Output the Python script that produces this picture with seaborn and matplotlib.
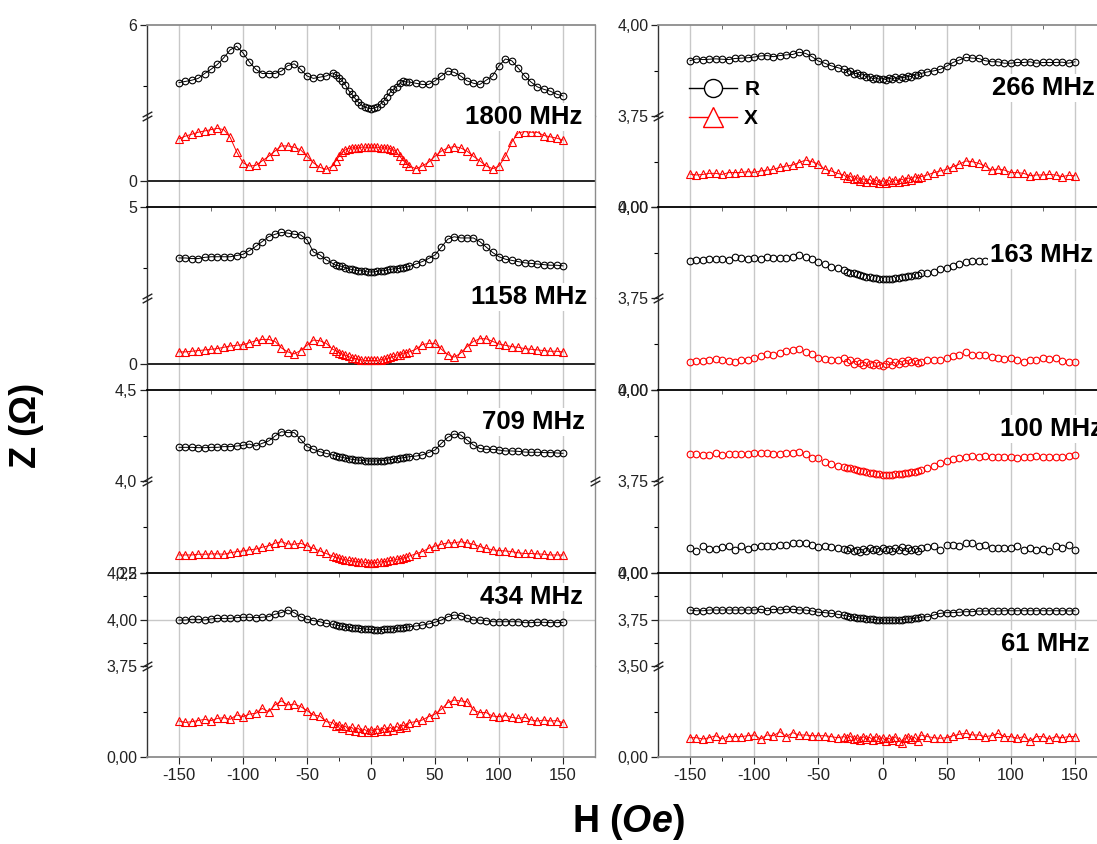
import matplotlib
matplotlib.use("Agg")
import matplotlib.pyplot as plt
import matplotlib.transforms as mtransforms
from matplotlib.lines import Line2D
import seaborn as sns

# === Field sweep: 5 Oe steps outside, 2.5 Oe steps in the central region ===
H = list(range(-150, -30, 5)) + [k * 2.5 for k in range(-12, 13)] + list(range(35, 155, 5))

# === 1800 MHz ===
R_1800 = [5.05, 5.07, 5.09, 5.12, 5.20, 5.27, 5.35, 5.46, 5.59, 5.65, 5.54, 5.39,
          5.27, 5.20, 5.20, 5.20, 5.24, 5.33, 5.36, 5.27, 5.16, 5.12, 5.14, 5.16,
          5.21, 5.18, 5.13, 5.08, 5.01, 4.92, 4.86, 4.79, 4.73, 4.68, 4.65, 4.63, 4.62,
          4.63, 4.65, 4.70, 4.75, 4.82, 4.89, 4.94, 4.98, 5.04, 5.08, 5.06, 5.06,
          5.04, 5.02, 5.02, 5.08, 5.16, 5.24, 5.22, 5.16, 5.08, 5.04, 5.02, 5.09,
          5.16, 5.33, 5.44, 5.41, 5.29, 5.16, 5.06, 4.98, 4.94, 4.91, 4.86, 4.83]
X_1800 = [0.65, 0.69, 0.72, 0.75, 0.77, 0.79, 0.81, 0.79, 0.67, 0.45, 0.28, 0.23,
          0.24, 0.31, 0.38, 0.46, 0.54, 0.54, 0.52, 0.48, 0.38, 0.28, 0.21, 0.18,
          0.23, 0.31, 0.38, 0.44, 0.48, 0.50, 0.51, 0.51, 0.51, 0.52, 0.52, 0.52, 0.52,
          0.52, 0.52, 0.51, 0.51, 0.51, 0.50, 0.48, 0.44, 0.38, 0.32, 0.27, 0.23,
          0.19, 0.23, 0.29, 0.38, 0.46, 0.51, 0.53, 0.51, 0.46, 0.38, 0.31, 0.23,
          0.19, 0.23, 0.38, 0.60, 0.74, 0.76, 0.75, 0.75, 0.70, 0.68, 0.66, 0.63]

# === 1158 MHz ===
R_1158 = [4.16, 4.16, 4.15, 4.15, 4.17, 4.18, 4.18, 4.18, 4.18, 4.20, 4.22, 4.28,
          4.35, 4.43, 4.51, 4.55, 4.58, 4.57, 4.55, 4.54, 4.46, 4.26, 4.21, 4.13,
          4.07, 4.04, 4.03, 4.02, 4.00, 3.98, 3.97, 3.96, 3.95, 3.95, 3.94, 3.93, 3.93,
          3.93, 3.94, 3.95, 3.95, 3.96, 3.97, 3.98, 3.98, 3.99, 4.00, 4.01, 4.02,
          4.06, 4.10, 4.15, 4.21, 4.34, 4.47, 4.51, 4.49, 4.49, 4.49, 4.43, 4.34,
          4.25, 4.18, 4.14, 4.12, 4.10, 4.08, 4.07, 4.06, 4.05, 4.04, 4.04, 4.03]
X_1158 = [0.18, 0.18, 0.19, 0.20, 0.21, 0.22, 0.23, 0.25, 0.27, 0.28, 0.29, 0.32,
          0.35, 0.37, 0.37, 0.34, 0.24, 0.18, 0.15, 0.20, 0.28, 0.36, 0.35, 0.31,
          0.22, 0.20, 0.17, 0.15, 0.13, 0.11, 0.09, 0.08, 0.07, 0.06, 0.05, 0.05, 0.05,
          0.05, 0.05, 0.06, 0.07, 0.08, 0.10, 0.11, 0.13, 0.14, 0.16, 0.17, 0.18,
          0.22, 0.29, 0.31, 0.31, 0.22, 0.14, 0.10, 0.16, 0.26, 0.34, 0.38, 0.38,
          0.34, 0.30, 0.28, 0.26, 0.25, 0.23, 0.22, 0.21, 0.20, 0.19, 0.19, 0.18]

# === 709 MHz ===
R_709 = [4.185, 4.185, 4.185, 4.183, 4.183, 4.185, 4.185, 4.189, 4.189, 4.192, 4.196, 4.203,
         4.192, 4.207, 4.220, 4.247, 4.271, 4.266, 4.266, 4.229, 4.189, 4.174, 4.161, 4.152,
         4.143, 4.137, 4.134, 4.130, 4.126, 4.123, 4.119, 4.117, 4.115, 4.114, 4.112, 4.110, 4.110,
         4.110, 4.110, 4.112, 4.112, 4.115, 4.117, 4.119, 4.123, 4.125, 4.128, 4.130, 4.134,
         4.137, 4.143, 4.156, 4.170, 4.207, 4.240, 4.258, 4.253, 4.225, 4.198, 4.179, 4.174,
         4.174, 4.170, 4.165, 4.165, 4.163, 4.159, 4.158, 4.158, 4.156, 4.156, 4.154, 4.152]
X_709 = [0.249, 0.249, 0.249, 0.251, 0.251, 0.252, 0.252, 0.251, 0.255, 0.258, 0.260, 0.263,
         0.265, 0.270, 0.274, 0.281, 0.285, 0.279, 0.278, 0.281, 0.274, 0.267, 0.260, 0.253,
         0.246, 0.243, 0.241, 0.238, 0.236, 0.234, 0.233, 0.232, 0.231, 0.230, 0.229, 0.228, 0.228,
         0.228, 0.229, 0.230, 0.231, 0.232, 0.234, 0.235, 0.237, 0.239, 0.241, 0.243, 0.246,
         0.252, 0.258, 0.267, 0.273, 0.278, 0.282, 0.282, 0.285, 0.282, 0.278, 0.272, 0.267,
         0.263, 0.261, 0.260, 0.258, 0.255, 0.253, 0.253, 0.252, 0.251, 0.249, 0.249, 0.249]

# === 434 MHz ===
R_434 = [3.997, 3.997, 4.001, 4.001, 3.997, 4.003, 4.006, 4.006, 4.006, 4.010, 4.012, 4.012,
         4.010, 4.012, 4.015, 4.028, 4.037, 4.051, 4.037, 4.015, 4.001, 3.994, 3.988, 3.979,
         3.974, 3.970, 3.967, 3.963, 3.961, 3.958, 3.956, 3.954, 3.953, 3.951, 3.949, 3.947, 3.947,
         3.945, 3.945, 3.945, 3.947, 3.947, 3.949, 3.951, 3.953, 3.954, 3.956, 3.958, 3.961,
         3.965, 3.970, 3.976, 3.985, 3.997, 4.015, 4.024, 4.021, 4.006, 3.997, 3.997, 3.994,
         3.988, 3.988, 3.988, 3.988, 3.988, 3.983, 3.983, 3.985, 3.985, 3.983, 3.983, 3.985]
X_434 = [0.198, 0.190, 0.194, 0.200, 0.207, 0.200, 0.212, 0.216, 0.207, 0.231, 0.222, 0.236,
         0.240, 0.267, 0.249, 0.286, 0.308, 0.286, 0.291, 0.277, 0.255, 0.231, 0.225, 0.194,
         0.189, 0.170, 0.178, 0.160, 0.170, 0.150, 0.163, 0.145, 0.158, 0.140, 0.152, 0.138, 0.150,
         0.140, 0.155, 0.142, 0.158, 0.145, 0.163, 0.150, 0.168, 0.158, 0.175, 0.165, 0.189,
         0.194, 0.203, 0.222, 0.236, 0.262, 0.299, 0.313, 0.308, 0.304, 0.258, 0.244, 0.244,
         0.225, 0.222, 0.227, 0.218, 0.212, 0.218, 0.203, 0.198, 0.203, 0.198, 0.200, 0.189]

# === 266 MHz ===
R_266 = [3.902, 3.907, 3.905, 3.906, 3.907, 3.906, 3.905, 3.908, 3.909, 3.910, 3.912, 3.915,
         3.916, 3.913, 3.916, 3.918, 3.919, 3.925, 3.922, 3.913, 3.901, 3.895, 3.888, 3.883,
         3.878, 3.872, 3.875, 3.866, 3.867, 3.862, 3.864, 3.857, 3.858, 3.852, 3.855, 3.851, 3.853,
         3.850, 3.855, 3.851, 3.856, 3.852, 3.857, 3.855, 3.860, 3.858, 3.864, 3.862, 3.867,
         3.871, 3.874, 3.878, 3.887, 3.897, 3.904, 3.911, 3.909, 3.908, 3.902, 3.899, 3.899,
         3.895, 3.895, 3.897, 3.897, 3.899, 3.895, 3.897, 3.897, 3.897, 3.898, 3.895, 3.899]
X_266 = [0.181, 0.176, 0.179, 0.185, 0.185, 0.179, 0.189, 0.189, 0.190, 0.194, 0.190, 0.198,
         0.203, 0.207, 0.218, 0.225, 0.231, 0.244, 0.258, 0.249, 0.236, 0.207, 0.198, 0.185,
         0.176, 0.160, 0.170, 0.152, 0.162, 0.145, 0.155, 0.140, 0.152, 0.136, 0.148, 0.134, 0.145,
         0.132, 0.146, 0.136, 0.150, 0.140, 0.154, 0.143, 0.160, 0.150, 0.167, 0.160, 0.167,
         0.176, 0.189, 0.198, 0.207, 0.222, 0.236, 0.253, 0.249, 0.240, 0.225, 0.203, 0.209,
         0.203, 0.189, 0.189, 0.185, 0.172, 0.176, 0.176, 0.179, 0.176, 0.167, 0.174, 0.172]

# === 163 MHz ===
R_163 = [3.853, 3.854, 3.854, 3.856, 3.856, 3.856, 3.854, 3.862, 3.859, 3.858, 3.860, 3.858,
         3.864, 3.861, 3.859, 3.861, 3.864, 3.868, 3.864, 3.857, 3.850, 3.843, 3.836, 3.832,
         3.827, 3.822, 3.820, 3.818, 3.815, 3.813, 3.810, 3.809, 3.807, 3.806, 3.805, 3.803, 3.802,
         3.801, 3.802, 3.803, 3.804, 3.806, 3.807, 3.809, 3.810, 3.810, 3.812, 3.814, 3.818,
         3.820, 3.822, 3.829, 3.833, 3.838, 3.843, 3.850, 3.853, 3.853, 3.853, 3.853, 3.853,
         3.853, 3.852, 3.853, 3.852, 3.853, 3.853, 3.852, 3.853, 3.853, 3.852, 3.853, 3.853]
X_163 = [0.152, 0.156, 0.159, 0.161, 0.170, 0.165, 0.159, 0.152, 0.165, 0.165, 0.174, 0.183,
         0.196, 0.192, 0.201, 0.211, 0.220, 0.223, 0.205, 0.198, 0.174, 0.170, 0.165, 0.161,
         0.174, 0.150, 0.161, 0.143, 0.156, 0.147, 0.137, 0.150, 0.143, 0.134, 0.147, 0.137, 0.128,
         0.143, 0.156, 0.137, 0.150, 0.143, 0.156, 0.147, 0.161, 0.150, 0.156, 0.147, 0.152,
         0.161, 0.165, 0.165, 0.174, 0.183, 0.192, 0.205, 0.192, 0.189, 0.192, 0.179, 0.174,
         0.168, 0.174, 0.161, 0.150, 0.161, 0.161, 0.174, 0.168, 0.174, 0.156, 0.152, 0.152]

# === 100 MHz (red trace on the upper scale, black trace on the lower scale) ===
TOP_100 = [3.824, 3.824, 3.821, 3.821, 3.826, 3.821, 3.823, 3.823, 3.823, 3.823, 3.826, 3.826,
           3.826, 3.824, 3.824, 3.826, 3.828, 3.829, 3.824, 3.812, 3.812, 3.803, 3.797, 3.792,
           3.789, 3.787, 3.785, 3.782, 3.780, 3.778, 3.777, 3.775, 3.773, 3.771, 3.769, 3.768, 3.767,
           3.766, 3.766, 3.767, 3.768, 3.769, 3.770, 3.771, 3.773, 3.775, 3.776, 3.778, 3.780,
           3.785, 3.791, 3.799, 3.805, 3.810, 3.812, 3.815, 3.819, 3.817, 3.819, 3.817, 3.817,
           3.815, 3.815, 3.814, 3.817, 3.817, 3.819, 3.817, 3.817, 3.817, 3.817, 3.819, 3.821]
BOT_100 = [0.136, 0.121, 0.145, 0.130, 0.132, 0.139, 0.148, 0.123, 0.145, 0.130, 0.141, 0.145,
           0.145, 0.145, 0.154, 0.150, 0.163, 0.163, 0.163, 0.150, 0.141, 0.145, 0.139, 0.136,
           0.130, 0.123, 0.136, 0.117, 0.126, 0.112, 0.130, 0.121, 0.136, 0.123, 0.130, 0.117, 0.136,
           0.123, 0.130, 0.119, 0.136, 0.123, 0.139, 0.117, 0.136, 0.123, 0.130, 0.117, 0.136,
           0.141, 0.145, 0.126, 0.150, 0.150, 0.145, 0.163, 0.163, 0.145, 0.150, 0.136, 0.136,
           0.136, 0.136, 0.145, 0.123, 0.136, 0.126, 0.130, 0.117, 0.148, 0.136, 0.150, 0.123]

# === 61 MHz ===
R_61 = [3.801, 3.797, 3.797, 3.801, 3.801, 3.801, 3.801, 3.801, 3.801, 3.801, 3.801, 3.805,
        3.797, 3.805, 3.801, 3.805, 3.805, 3.801, 3.801, 3.796, 3.789, 3.787, 3.783, 3.778,
        3.772, 3.769, 3.765, 3.763, 3.760, 3.758, 3.756, 3.754, 3.753, 3.751, 3.749, 3.747, 3.747,
        3.747, 3.746, 3.747, 3.747, 3.747, 3.749, 3.751, 3.753, 3.754, 3.756, 3.760, 3.763,
        3.765, 3.774, 3.783, 3.787, 3.787, 3.789, 3.792, 3.792, 3.796, 3.796, 3.796, 3.796,
        3.797, 3.797, 3.797, 3.797, 3.797, 3.797, 3.797, 3.797, 3.797, 3.797, 3.796, 3.797]
X_61 = [0.106, 0.106, 0.099, 0.106, 0.117, 0.099, 0.112, 0.112, 0.112, 0.117, 0.121, 0.099,
        0.121, 0.117, 0.139, 0.112, 0.134, 0.121, 0.121, 0.117, 0.117, 0.117, 0.112, 0.106,
        0.112, 0.103, 0.115, 0.097, 0.106, 0.093, 0.112, 0.099, 0.108, 0.093, 0.112, 0.097, 0.106,
        0.090, 0.103, 0.093, 0.112, 0.090, 0.079, 0.103, 0.112, 0.097, 0.108, 0.090, 0.121,
        0.112, 0.106, 0.103, 0.106, 0.117, 0.125, 0.130, 0.121, 0.121, 0.112, 0.117, 0.130,
        0.112, 0.112, 0.103, 0.112, 0.088, 0.112, 0.112, 0.099, 0.112, 0.106, 0.112, 0.112]

FREQ_LABELS = ["1800 MHz", "1158 MHz", "709 MHz", "434 MHz",
               "266 MHz", "163 MHz", "100 MHz", "61 MHz"]

plt.rcParams["font.family"] = ["Liberation Sans", "DejaVu Sans"]
plt.rcParams["axes.unicode_minus"] = False
plt.rcParams["mathtext.fontset"] = "custom"
plt.rcParams["mathtext.it"] = "Liberation Sans:italic:bold"
plt.rcParams["mathtext.rm"] = "Liberation Sans:bold"

W, HT = 1097, 844
fig = plt.figure(figsize=(W / 100, HT / 100), dpi=100)

# panel geometry in pixels
COL_L = [147, 658]
COL_R = [595, 1107]
TOPS = [25, 207, 390, 573]
BREAKS = [116, 298, 481, 666]
BOTTOMS = [207, 390, 573, 757]

BLACK, RED = "black", "#ff0000"

# (upper series, style), (lower series, style), upper ylim/ticks, lower ylim/ticks
panels = [
    # left column
    dict(top=(R_1800, BLACK, "o", True), bot=(X_1800, RED, "^", True),
         tlim=(4.5, 6.0), tmaj=[(6.0, "6")], tmin=[5.0],
         blim=(-0.4, 1.0), bmaj=[(0.0, "0")], bmin=[], zero=True,
         lab=(582, 117)),
    dict(top=(R_1158, BLACK, "o", True), bot=(X_1158, RED, "^", True),
         tlim=(3.5, 5.0), tmaj=[(5.0, "5")], tmin=[4.0],
         blim=(-0.4, 1.0), bmaj=[(0.0, "0")], bmin=[], zero=True,
         lab=(587, 297)),
    dict(top=(R_709, BLACK, "o", True), bot=(X_709, RED, "^", True),
         tlim=(4.0, 4.5), tmaj=[(4.5, "4,5"), (4.0, "4,0")], tmin=[4.25],
         blim=(0.2, 0.45), bmaj=[(0.2, "0,2")], bmin=[0.325], zero=False,
         lab=(585, 422), rbreak=True),
    dict(top=(R_434, BLACK, "o", True), bot=(X_434, RED, "^", True),
         tlim=(3.75, 4.25), tmaj=[(4.25, "4,25"), (4.0, "4,00"), (3.75, "3,75")],
         tmin=[4.125, 3.875], tgrid=4.0,
         blim=(0.0, 0.5), bmaj=[(0.0, "0,00")], bmin=[0.25], zero=False,
         lab=(583, 597)),
    # right column
    dict(top=(R_266, BLACK, "o", True), bot=(X_266, RED, "^", True),
         tlim=(3.75, 4.0), tmaj=[(4.0, "4,00"), (3.75, "3,75")], tmin=[3.875],
         blim=(0.0, 0.5), bmaj=[(0.0, "0,00")], bmin=[0.25], zero=False,
         lab=(1095, 88)),
    dict(top=(R_163, BLACK, "o", False), bot=(X_163, RED, "o", False),
         tlim=(3.75, 4.0), tmaj=[(4.0, "4,00"), (3.75, "3,75")], tmin=[3.875],
         blim=(0.0, 0.5), bmaj=[(0.0, "0,00")], bmin=[0.25], zero=False,
         lab=(1093, 255)),
    dict(top=(TOP_100, RED, "o", False), bot=(BOT_100, BLACK, "o", False),
         tlim=(3.75, 4.0), tmaj=[(4.0, "4,00"), (3.75, "3,75")], tmin=[3.875],
         blim=(0.0, 0.5), bmaj=[(0.0, "0,00")], bmin=[0.25], zero=False,
         lab=(1103, 429)),
    dict(top=(R_61, BLACK, "o", True), bot=(X_61, RED, "^", True),
         tlim=(3.5, 4.0), tmaj=[(4.0, "4,00"), (3.75, "3,75"), (3.5, "3,50")],
         tmin=[3.875, 3.625], tgrid=3.75,
         blim=(0.0, 0.5), bmaj=[(0.0, "0,00")], bmin=[0.25], zero=False,
         lab=(1090, 644)),
]


def draw(ax, series):
    y, color, marker, line = series
    ms = 5.2 if marker == "^" else 4.8
    sns.lineplot(x=H, y=y, ax=ax, color=color, marker=marker, markersize=ms,
                 markerfacecolor="none", markeredgecolor=color, markeredgewidth=0.8,
                 linewidth=0.7, linestyle="-" if line else "none",
                 errorbar=None, legend=False)


def base_style(ax):
    ax.set_xlim(-175, 175)
    ax.set_xticks(range(-150, 151, 50))
    ax.set_xticks(range(-125, 126, 50), minor=True)
    ax.grid(axis="x", which="major", color="#c8c8c8", lw=1)
    ax.grid(axis="y", visible=False)
    ax.set_axisbelow(True)
    ax.set_xlabel("")
    ax.set_ylabel("")
    ax.spines["left"].set_color("#333333")
    ax.spines["left"].set_linewidth(1.0)
    ax.spines["right"].set_color("#8c8c8c")
    ax.spines["right"].set_linewidth(1.0)
    ax.tick_params(axis="y", which="major", direction="out", length=5, width=0.9,
                   pad=2, labelsize=11.5, colors="#222222", left=True, right=False)
    ax.tick_params(axis="y", which="minor", direction="out", length=3, width=0.8,
                   left=True, right=False)


for i, p in enumerate(panels):
    col, row = divmod(i, 4)
    L, R = COL_L[col], COL_R[col]
    top, brk, bot = TOPS[row], BREAKS[row], BOTTOMS[row]

    ax_t = fig.add_axes([L / W, 1 - brk / HT, (R - L) / W, (brk - top) / HT])
    ax_b = fig.add_axes([L / W, 1 - bot / HT, (R - L) / W, (bot - brk) / HT])

    for ax in (ax_t, ax_b):
        base_style(ax)

    draw(ax_t, p["top"])
    draw(ax_b, p["bot"])

    # upper scale
    ax_t.set_ylim(*p["tlim"])
    ax_t.set_yticks([v for v, _ in p["tmaj"]], [s for _, s in p["tmaj"]])
    ax_t.set_yticks(p["tmin"], minor=True)
    ax_t.spines["bottom"].set_visible(False)
    ax_t.spines["top"].set_color("#8c8c8c" if row == 0 else "black")
    ax_t.spines["top"].set_linewidth(1.3)
    ax_t.tick_params(axis="x", which="both", bottom=False, labelbottom=False,
                     top=True, direction="in", length=3, color="#555555")
    ax_t.tick_params(axis="x", which="major", top=False)
    if "tgrid" in p:
        ax_t.axhline(p["tgrid"], color="#c8c8c8", lw=1, zorder=0)

    # lower scale
    ax_b.set_ylim(*p["blim"])
    ax_b.set_yticks([v for v, _ in p["bmaj"]], [s for _, s in p["bmaj"]])
    ax_b.set_yticks(p["bmin"], minor=True)
    ax_b.spines["top"].set_visible(False)
    if p["zero"]:
        ax_b.axhline(0, color="black", lw=1.2, zorder=1)
    if row == 3:
        ax_b.spines["bottom"].set_color("#8c8c8c")
        ax_b.spines["bottom"].set_linewidth(1.3)
        ax_b.tick_params(axis="x", which="major", direction="out", length=5,
                         labelsize=12, pad=3, colors="#222222")
        ax_b.tick_params(axis="x", which="minor", direction="out", length=3)
    else:
        ax_b.spines["bottom"].set_visible(False)
        ax_b.tick_params(axis="x", which="both", bottom=False, labelbottom=False)

    # axis break marks
    sides = [0.0, 1.0] if p.get("rbreak") else [0.0]
    for xs in sides:
        for dy in (-2.2, 2.2):
            tr = mtransforms.offset_copy(ax_b.transAxes, fig=fig, x=0, y=dy, units="dots")
            ax_b.plot([xs], [1.0], transform=tr, marker=[(-1, -0.55), (1, 0.55)],
                      markersize=7, linestyle="none", color="#222222",
                      markeredgewidth=1.0, clip_on=False, zorder=5)

    # frequency label
    lx, ly = p["lab"]
    fig.text(lx / W, 1 - ly / HT, FREQ_LABELS[i], ha="right", va="center",
             fontsize=18.5, fontweight="bold",
             bbox=dict(facecolor="white", edgecolor="none", pad=1.5))

# legend in the 266 MHz panel
handles = [Line2D([], [], color=BLACK, lw=1, marker="o", markersize=13,
                  markerfacecolor="white", markeredgecolor=BLACK, markeredgewidth=1),
           Line2D([], [], color=RED, lw=1, marker="^", markersize=14,
                  markerfacecolor="white", markeredgecolor=RED, markeredgewidth=1)]
fig.legend(handles, ["R", "X"], loc="upper left", bbox_to_anchor=(689 / W, 1 - 80 / HT),
           frameon=False, prop=dict(weight="bold", size=15), handlelength=2.3,
           handletextpad=0.35, labelspacing=0.5, borderpad=0, borderaxespad=0)

fig.text(27 / W, 1 - 425 / HT, "Z (Ω)", rotation=90, ha="center", va="center",
         fontsize=26, fontweight="bold")
fig.text(628 / W, 1 - 822 / HT, r"H ($\mathit{Oe}$)", ha="center", va="center",
         fontsize=27, fontweight="bold")

fig.savefig("out.png", dpi=100)
